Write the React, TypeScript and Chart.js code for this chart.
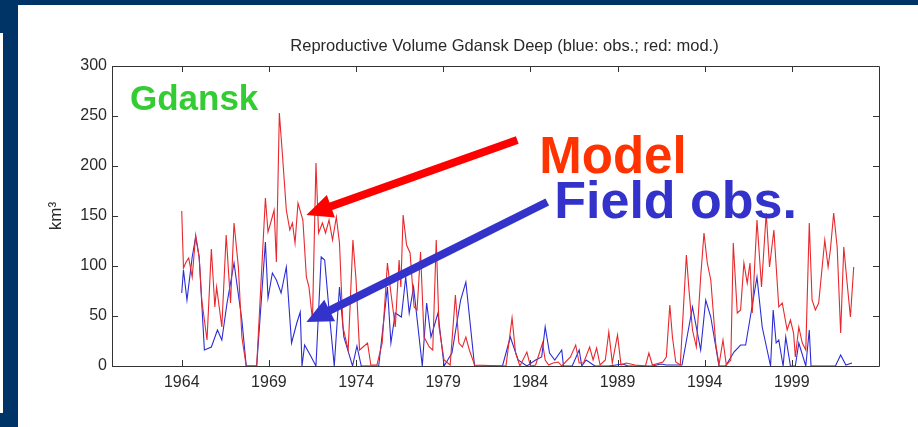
import { useEffect, useRef } from 'react';
import { Chart, registerables } from 'chart.js';

Chart.register(...registerables);

// ---------- data ----------
const modYears = [
  1964.0, 1964.1, 1964.25, 1964.4, 1964.6, 1964.8, 1965.0, 1965.15, 1965.45, 1965.7, 1965.9, 1966.0,
  1966.3, 1966.55, 1966.8, 1967.0, 1967.25, 1967.45, 1967.7, 1968.3, 1968.8, 1968.95, 1969.1, 1969.3,
  1969.43, 1969.6, 1969.77, 1970.0, 1970.2, 1970.35, 1970.5, 1970.67, 1970.95, 1971.15, 1971.3, 1971.5,
  1971.7, 1971.85, 1972.07, 1972.25, 1972.45, 1972.65, 1972.87, 1973.05, 1973.25, 1973.55, 1973.82, 1974.0,
  1974.2, 1974.66, 1974.85, 1975.2, 1975.5, 1975.8, 1976.0, 1976.25, 1976.47, 1976.57, 1976.7, 1976.9,
  1977.1, 1977.33, 1977.5, 1977.7, 1977.9, 1978.2, 1978.4, 1978.6, 1978.76, 1979.05, 1979.4, 1979.7,
  1979.9, 1980.1, 1980.3, 1980.5, 1980.8, 1982.6, 1982.95, 1983.15, 1983.4, 1983.8, 1984.0, 1984.3,
  1984.7, 1984.85, 1985.05, 1985.3, 1985.6, 1985.8, 1986.3, 1986.6, 1986.8, 1987.05, 1987.4, 1987.6,
  1987.8, 1988.0, 1988.3, 1988.5, 1988.7, 1989.0, 1989.2, 1989.5, 1990.0, 1990.6, 1990.8, 1991.0,
  1991.6, 1991.8, 1992.0, 1992.15, 1992.34, 1992.6, 1992.95, 1993.1, 1993.3, 1993.52, 1993.77, 1993.96,
  1994.15, 1994.35, 1994.63, 1994.82, 1995.05, 1995.24, 1995.5, 1995.64, 1995.87, 1996.06, 1996.25, 1996.44,
  1996.6, 1996.73, 1997.0, 1997.26, 1997.53, 1997.72, 1997.97, 1998.25, 1998.45, 1998.73, 1998.92, 1999.1,
  1999.2, 1999.4, 1999.6, 1999.8, 2000.0, 2000.16, 2000.35, 2000.54, 2000.74, 2000.89, 2001.08, 2001.21,
  2001.4, 2001.6, 2001.8, 2001.98, 2002.17, 2002.36, 2002.55,
];
const modValues = [
  155, 98, 104, 108, 89, 131, 109, 66, 26, 117, 59, 79,
  39, 131, 63, 143, 99, 29, 0, 0, 168, 134, 143, 156,
  104, 253, 213, 156, 136, 143, 123, 163, 146, 89, 79, 46,
  203, 133, 143, 133, 146, 126, 149, 123, 39, 16, 126, 86,
  16, 23, 1, 1, 23, 103, 73, 39, 106, 79, 151, 121,
  113, 59, 56, 114, 29, 19, 16, 126, 39, 6, 1, 71,
  23, 19, 29, 16, 1, 0, 48, 13, 0, 14, 0, 1,
  23, 6, 1, 3, 4, 0, 9, 21, 3, 3, 19, 6,
  18, 1, 6, 34, 3, 31, 1, 3, 1, 0, 13, 1,
  4, 9, 61, 29, 4, 1, 111, 76, 36, 19, 89, 133,
  103, 86, 23, 1, 26, 1, 6, 123, 53, 56, 103, 83,
  103, 53, 146, 79, 153, 99, 136, 59, 63, 36, 46, 33,
  9, 39, 23, 16, 143, 66, 56, 63, 99, 126, 99, 116,
  153, 119, 33, 119, 83, 49, 99,
];

const obsYears = [
  1964.0, 1964.1, 1964.3, 1964.6, 1964.8, 1965.0, 1965.3, 1965.7, 1966.05, 1966.3, 1966.6, 1967.0,
  1967.45, 1967.7, 1968.3, 1968.8, 1968.95, 1969.2, 1969.43, 1969.7, 1970.0, 1970.3, 1970.6, 1970.8,
  1970.9, 1971.05, 1971.4, 1971.7, 1972.0, 1972.2, 1972.5, 1972.75, 1973.05, 1973.3, 1973.8, 1974.05,
  1974.3, 1975.3, 1975.8, 1976.0, 1976.25, 1976.6, 1976.85, 1977.05, 1977.3, 1977.8, 1978.05, 1978.3,
  1978.7, 1979.05, 1979.5, 1980.0, 1980.3, 1980.8, 1982.4, 1982.85, 1983.3, 1983.8, 1984.3, 1984.65,
  1984.85, 1985.1, 1985.4, 1985.8, 1985.9, 1986.4, 1986.8, 1986.95, 1987.2, 1987.7, 1988.5, 1989.3,
  1989.6, 1991.0, 1991.5, 1991.8, 1992.7, 1993.3, 1993.77, 1994.06, 1994.35, 1994.82, 1995.2, 1995.68,
  1996.06, 1996.35, 1997.0, 1997.3, 1997.78, 1997.93, 1998.1, 1998.25, 1998.5, 1998.65, 1998.92, 1999.2,
  1999.4, 1999.8, 2000.0, 2000.1, 2001.5, 2001.8, 2002.1, 2002.45,
];
const obsValues = [
  73, 96, 66, 109, 129, 109, 16, 19, 36, 26, 63, 103,
  46, 0, 0, 124, 68, 93, 86, 73, 99, 23, 43, 54,
  0, 21, 10, 0, 109, 106, 46, 0, 79, 29, 0, 20,
  0, 0, 79, 23, 53, 49, 89, 53, 79, 0, 63, 29,
  53, 0, 13, 66, 84, 0, 0, 29, 6, 0, 6, 9,
  39, 13, 6, 16, 0, 0, 16, 0, 6, 0, 0, 2,
  0, 0, 2, 1, 1, 59, 16, 66, 49, 0, 0, 14,
  21, 21, 89, 39, 0, 56, 23, 26, 0, 29, 0, 0,
  23, 0, 36, 0, 0, 11, 1, 3,
];

const xTickYears = [1964, 1969, 1974, 1979, 1984, 1989, 1994, 1999];
const yTickValues = [0, 50, 100, 150, 200, 250, 300];

const chartTitle = 'Reproductive Volume Gdansk Deep (blue: obs.; red: mod.)';
const yAxisTitle = 'km\u00B3';
const seriesNames = ['mod.', 'obs.'];

// ---------- annotations (anchored in data coordinates) ----------
const annotationLabels = [
  { text: 'Gdansk', at: [1961.03, 256], color: '#33cc33', size: 35 },
  { text: 'Model', at: [1984.51, 193], color: '#ff3300', size: 51 },
  { text: 'Field obs.', at: [1985.37, 148], color: '#3333cc', size: 52 },
];
const annotationArrows = [
  { from: [1983.25, 226], to: [1971.15, 151], color: '#ff0000' },
  { from: [1984.97, 164], to: [1971.15, 44], color: '#3333cc' },
];

const FONT = '"Liberation Sans", Arial, Helvetica, sans-serif';
const AXIS_COLOR = '#333333';
const TEXT_COLOR = '#2a2a2a';

const titlePlugin = {
  id: 'plotTitle',
  afterDraw(chart: any) {
    const { ctx, chartArea } = chart;
    ctx.save();
    ctx.font = `16.5px ${FONT}`;
    ctx.fillStyle = TEXT_COLOR;
    ctx.textAlign = 'center';
    ctx.textBaseline = 'middle';
    ctx.fillText(chartTitle, (chartArea.left + chartArea.right) / 2 + 9, chartArea.top - 20);
    ctx.restore();
  },
};

const framePlugin = {
  id: 'matlabFrame',
  beforeDatasetsDraw(chart: any) {
    const { ctx, chartArea, scales } = chart;
    const { left, right, top, bottom } = chartArea;
    const tl = 6;
    ctx.save();
    ctx.strokeStyle = AXIS_COLOR;
    ctx.lineWidth = 1;
    ctx.beginPath();
    ctx.rect(Math.round(left) + 0.5, Math.round(top) + 0.5, Math.round(right - left), Math.round(bottom - top));
    xTickYears.forEach((v) => {
      const px = Math.round(scales.x.getPixelForValue(v)) + 0.5;
      ctx.moveTo(px, bottom);
      ctx.lineTo(px, bottom - tl);
      ctx.moveTo(px, top);
      ctx.lineTo(px, top + tl);
    });
    yTickValues.forEach((v) => {
      const py = Math.round(scales.y.getPixelForValue(v)) + 0.5;
      ctx.moveTo(left, py);
      ctx.lineTo(left + tl, py);
      ctx.moveTo(right, py);
      ctx.lineTo(right - tl, py);
    });
    ctx.stroke();
    ctx.restore();
  },
};

const annotationPlugin = {
  id: 'slideAnnotations',
  afterDatasetsDraw(chart: any) {
    const { ctx, scales } = chart;
    const sx = (v: number) => scales.x.getPixelForValue(v);
    const sy = (v: number) => scales.y.getPixelForValue(v);
    ctx.save();
    annotationArrows.forEach((a) => {
      const x0 = sx(a.from[0]);
      const y0 = sy(a.from[1]);
      const x1 = sx(a.to[0]);
      const y1 = sy(a.to[1]);
      const ang = Math.atan2(y1 - y0, x1 - x0);
      const headLen = 26;
      const headHalf = 12;
      const bx = x1 - headLen * Math.cos(ang);
      const by = y1 - headLen * Math.sin(ang);
      ctx.strokeStyle = a.color;
      ctx.fillStyle = a.color;
      ctx.lineWidth = 8;
      ctx.lineCap = 'butt';
      ctx.beginPath();
      ctx.moveTo(x0, y0);
      ctx.lineTo(bx + 2 * Math.cos(ang), by + 2 * Math.sin(ang));
      ctx.stroke();
      ctx.beginPath();
      ctx.moveTo(x1, y1);
      ctx.lineTo(bx + headHalf * Math.sin(ang), by - headHalf * Math.cos(ang));
      ctx.lineTo(bx - headHalf * Math.sin(ang), by + headHalf * Math.cos(ang));
      ctx.closePath();
      ctx.fill();
    });
    annotationLabels.forEach((l) => {
      ctx.font = `bold ${l.size}px ${FONT}`;
      ctx.fillStyle = l.color;
      ctx.textAlign = 'left';
      ctx.textBaseline = 'alphabetic';
      ctx.fillText(l.text, sx(l.at[0]), sy(l.at[1]));
    });
    ctx.restore();
  },
};

export default function App() {
  const canvasRef = useRef<HTMLCanvasElement | null>(null);

  useEffect(() => {
    if (!canvasRef.current) return;
    const toPoints = (xs: number[], ys: number[]) => xs.map((x, i) => ({ x, y: ys[i] }));
    const chart = new Chart(canvasRef.current, {
      type: 'line',
      data: {
        datasets: [
          {
            label: seriesNames[0],
            data: toPoints(modYears, modValues),
            borderColor: 'rgb(232, 40, 44)',
            borderWidth: 1.1,
            pointRadius: 0,
            tension: 0,
            fill: false,
          },
          {
            label: seriesNames[1],
            data: toPoints(obsYears, obsValues),
            borderColor: 'rgb(44, 44, 214)',
            borderWidth: 1.1,
            pointRadius: 0,
            tension: 0,
            fill: false,
          },
        ],
      },
      options: {
        animation: false,
        responsive: false,
        maintainAspectRatio: false,
        layout: { padding: { left: 0, right: 39, top: 66, bottom: 0 } },
        plugins: {
          legend: { display: false },
          tooltip: { enabled: false },
          title: { display: false },
        },
        scales: {
          x: {
            type: 'linear',
            min: 1960,
            max: 2004,
            afterBuildTicks: (s: any) => {
              s.ticks = xTickYears.map((v) => ({ value: v }));
            },
            afterFit: (s: any) => {
              s.height = 61;
            },
            ticks: {
              color: TEXT_COLOR,
              font: { family: FONT, size: 16 },
              padding: 7,
              maxRotation: 0,
              autoSkip: false,
              callback: (v: any) => String(v),
            },
            grid: { display: false, drawTicks: false },
            border: { display: false },
          },
          y: {
            type: 'linear',
            min: 0,
            max: 300,
            afterBuildTicks: (s: any) => {
              s.ticks = yTickValues.map((v) => ({ value: v }));
            },
            afterFit: (s: any) => {
              s.width = 112;
            },
            ticks: {
              color: TEXT_COLOR,
              font: { family: FONT, size: 16 },
              padding: 5,
              callback: (v: any) => String(v),
            },
            grid: { display: false, drawTicks: false },
            border: { display: false },
            title: {
              display: true,
              text: yAxisTitle,
              color: TEXT_COLOR,
              font: { family: FONT, size: 17 },
              padding: { top: 46, bottom: 0 },
            },
          },
        },
      },
      plugins: [framePlugin, annotationPlugin, titlePlugin],
    });
    return () => chart.destroy();
  }, []);

  return (
    <div style={{ position: 'absolute', left: 0, top: 0, width: 918, height: 427, background: '#003366', overflow: 'hidden' }}>
      <div style={{ position: 'absolute', left: 18, top: 5, right: 0, bottom: 0, background: '#ffffff' }} />
      <div style={{ position: 'absolute', left: 0, top: 33, width: 3, height: 380, background: '#ffffff' }} />
      <canvas ref={canvasRef} width={918} height={427} style={{ position: 'absolute', left: 0, top: 0, display: 'block' }} />
    </div>
  );
}
